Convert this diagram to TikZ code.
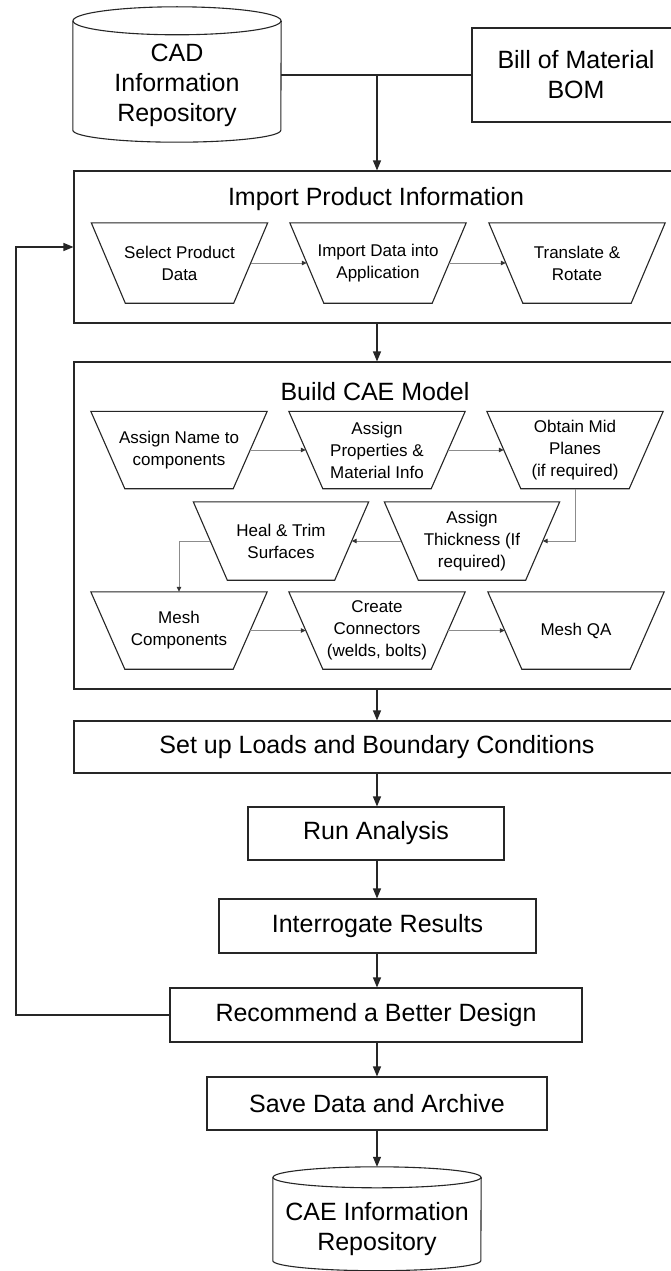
\documentclass[tikz,border=0pt]{standalone}
\usepackage{fontspec}
\setmainfont{Liberation Sans}
\usetikzlibrary{arrows.meta,calc}
\newcommand\fbig{\fontsize{25}{30}\selectfont}
\newcommand\fsmall{\fontsize{17}{22}\selectfont}
\tikzset{
  stroke/.style={line width=1.1pt, draw=black!85},
  box/.style={stroke, rectangle, inner sep=0pt, align=center, font=\fbig},
  label/.style={inner sep=0pt, align=center, font=\fbig},
  trap/.style={inner sep=0pt, align=center, font=\fsmall, minimum width=176pt, minimum height=78pt},
  trapline/.style={line width=1.1pt, draw=black!85, line join=miter},
  conn/.style={stroke, -{Triangle[length=10pt,width=8pt]}},
  flow/.style={draw=black!45, line width=1pt, -{Triangle[length=5pt,width=4.5pt,color=black!80]}},
}
\begin{document}
\begin{tikzpicture}[x=1pt, y=-1pt]
\useasboundingbox (0,0) rectangle (670,1271);
\fill[white] (0,0) rectangle (670,1271);

% --- sources ---
\node[label, minimum width=208pt, minimum height=114pt] (cad) at (177,85) {CAD\\Information\\Repository};
\draw[stroke] ([yshift=7pt]cad.north west) -- ([yshift=12pt]cad.south west)
  arc[start angle=180, end angle=360, x radius=104pt, y radius=12pt] -- ([yshift=7pt]cad.north east);
\draw[stroke] ([yshift=7pt]cad.north) ellipse [x radius=104pt, y radius=14pt];

\node[box, minimum width=208pt, minimum height=94pt] (bom) at (576,75) {Bill of Material\\BOM};

\coordinate (j) at (377,75);
\draw[stroke] (cad.east |- bom.west) -- (bom.west);

% --- import stage ---
\node[box, minimum width=606pt, minimum height=152pt] (imp) at (377,247) {};
\node[label] (impT) at (376,199) {Import Product Information};
\node[trap, minimum height=80pt] (a1) at (179.5,263) {Select Product\\Data};
\node[trap, minimum height=80pt] (a2) at (378,263) {Import Data into\\Application};
\node[trap, minimum height=80pt] (a3) at (577,263) {Translate \&\\Rotate};

% --- model building stage ---
\node[box, minimum width=606pt, minimum height=327pt] (bld) at (377,525.5) {};
\node[label] (bldT) at (375,392) {Build CAE Model};
\node[trap, minimum height=77pt] (b1) at (179,450) {Assign Name to\\components};
\node[trap, minimum height=77pt] (b2) at (377,450) {Assign\\Properties \&\\Material Info};
\node[trap, minimum height=77pt] (b3) at (575,450) {Obtain Mid\\Planes\\(if required)};
\node[trap, minimum width=175pt] (c1) at (281,541) {Heal \& Trim\\Surfaces};
\node[trap, minimum width=175pt] (c2) at (472,541) {Assign\\Thickness (If\\required)};
\node[trap, minimum height=77pt] (d1) at (179,630.5) {Mesh\\Components};
\node[trap, minimum height=77pt] (d2) at (377,630.5) {Create\\Connectors\\(welds, bolts)};
\node[trap, minimum height=77pt] (d3) at (576,630.5) {Mesh QA};

\foreach \n in {a1,a2,a3,b1,b2,b3,c1,c2,d1,d2,d3}
  \draw[trapline] (\n.north west) -- (\n.north east) -- ([xshift=-34pt]\n.south east)
    -- ([xshift=34pt]\n.south west) -- cycle;

% --- analysis chain ---
\node[box, minimum width=606pt, minimum height=52pt] (setup) at (377,747) {Set up Loads and Boundary Conditions};
\node[box, minimum width=256pt, minimum height=53pt] (run) at (376,833.5) {Run Analysis};
\node[box, minimum width=317pt, minimum height=54pt] (intr) at (377.5,926) {Interrogate Results};
\node[box, minimum width=412pt, minimum height=54pt] (rec) at (376,1015) {Recommend a Better Design};
\node[box, minimum width=340pt, minimum height=53pt] (save) at (377,1103.5) {Save Data and Archive};

\node[label, minimum width=208pt, minimum height=83pt] (cae) at (377,1229) {CAE Information\\Repository};
\draw[stroke] ([yshift=10pt]cae.north west) -- ([yshift=10pt]cae.south west)
  arc[start angle=180, end angle=360, x radius=104pt, y radius=10pt] -- ([yshift=10pt]cae.north east);
\draw[stroke] ([yshift=10pt]cae.north) ellipse [x radius=104pt, y radius=10.5pt];

% --- main flow ---
\draw[conn] (j) -- (imp.north);
\draw[conn] (imp.south) -- (bld.north);
\draw[conn] (bld.south) -- (setup.north);
\draw[conn] (setup.south) -- (run.north -| setup.south);
\draw[conn] (run.south -| setup.south) -- (intr.north -| setup.south);
\draw[conn] (intr.south -| setup.south) -- (rec.north -| setup.south);
\draw[conn] (rec.south -| setup.south) -- (save.north -| setup.south);
\draw[conn] (save.south -| setup.south) -- ([yshift=20.5pt]cae.north);

% --- feedback loop ---
\coordinate (fb) at (16,1015);
\draw[conn] (rec.west) -- (rec.west -| fb) |- (imp.west);

% --- steps inside the stages ---
\draw[flow] ([xshift=-17pt]a1.east) -- ([xshift=17pt]a2.west);
\draw[flow] ([xshift=-17pt]a2.east) -- ([xshift=17pt]a3.west);
\draw[flow] ([xshift=-17pt]b1.east) -- ([xshift=17pt]b2.west);
\draw[flow] ([xshift=-17pt]b2.east) -- ([xshift=17pt]b3.west);
\draw[flow] (b3.south) |- ([xshift=-17pt]c2.east);
\draw[flow] ([xshift=17pt]c2.west) -- ([xshift=-17pt]c1.east);
\draw[flow] ([xshift=17pt]c1.west) -| (d1.north);
\draw[flow] ([xshift=-17pt]d1.east) -- ([xshift=17pt]d2.west);
\draw[flow] ([xshift=-17pt]d2.east) -- ([xshift=17pt]d3.west);
\end{tikzpicture}
\end{document}
